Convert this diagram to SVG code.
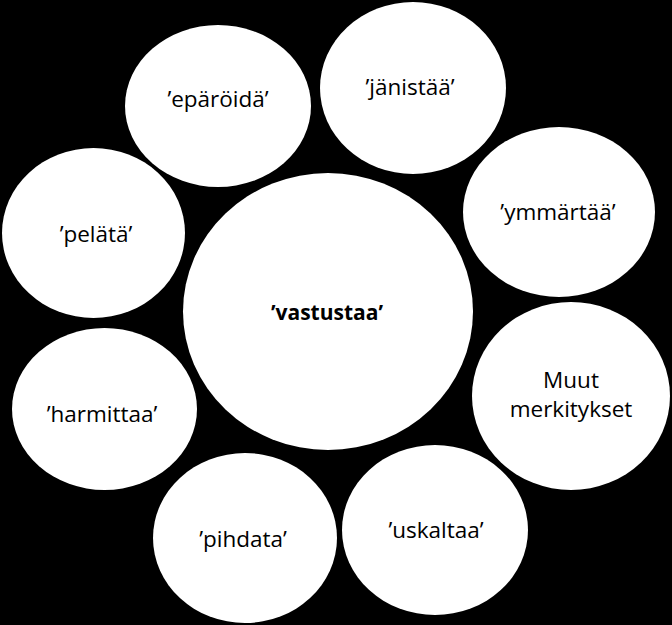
<svg xmlns="http://www.w3.org/2000/svg" width="672" height="625" viewBox="0 0 672 625">
<style>
  .node { fill: #ffffff; stroke: none; }
  .lbl { font-family: "Open Sans", "Liberation Sans", sans-serif; font-size: 22.5px; fill: #000000; text-anchor: middle; }
  .main { font-weight: bold; font-size: 21px; }
</style>
<rect x="0" y="0" width="672" height="625" fill="#000000"/>
<g id="connectors"></g>
<g id="node-vastustaa">
  <ellipse class="node" cx="328" cy="311.5" rx="145" ry="138.5"/>
  <text class="lbl main" x="327" y="320">’vastustaa’</text>
</g>
<g id="node-eparoida">
  <ellipse class="node" cx="218" cy="106" rx="93" ry="81"/>
  <text class="lbl" x="218" y="107">’epäröidä’</text>
</g>
<g id="node-janistaa">
  <ellipse class="node" cx="413" cy="88" rx="93" ry="86"/>
  <text class="lbl" x="410" y="95">’jänistää’</text>
</g>
<g id="node-ymmartaa">
  <ellipse class="node" cx="559" cy="212" rx="96" ry="85"/>
  <text class="lbl" x="558" y="220">’ymmärtää’</text>
</g>
<g id="node-muut">
  <ellipse class="node" cx="571" cy="396" rx="99" ry="94"/>
  <text class="lbl" x="571" y="388">Muut</text>
  <text class="lbl" x="571" y="417">merkitykset</text>
</g>
<g id="node-uskaltaa">
  <ellipse class="node" cx="435" cy="530" rx="93" ry="85"/>
  <text class="lbl" x="436" y="538">’uskaltaa’</text>
</g>
<g id="node-pihdata">
  <ellipse class="node" cx="245" cy="538" rx="92" ry="85"/>
  <text class="lbl" x="243" y="547">’pihdata’</text>
</g>
<g id="node-harmittaa">
  <ellipse class="node" cx="104.5" cy="409" rx="92.5" ry="81"/>
  <text class="lbl" x="102" y="422">’harmittaa’</text>
</g>
<g id="node-pelata">
  <ellipse class="node" cx="93.5" cy="233" rx="91.5" ry="85"/>
  <text class="lbl" x="96" y="242">’pelätä’</text>
</g>
</svg>
